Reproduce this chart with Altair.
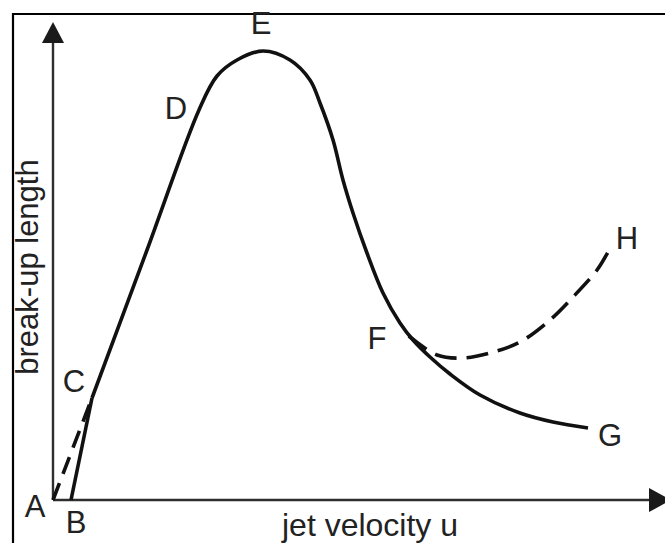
import altair as alt
import pandas as pd

# Schematic jet break-up regimes: break-up length vs jet velocity (arbitrary units)

# B -> C: dripping / early Rayleigh branch (solid)
bc_u = [3.0, 6.5]
bc_L = [0.0, 20.4]

# C -> D -> E -> F -> G: main break-up curve (solid)
main_u = [6.5, 15.67, 24.33, 27.33, 30.67, 35.0, 39.5, 42.83, 44.5, 46.67, 48.33,
          50.0, 52.33, 55.0, 57.83, 60.0, 62.83, 66.17, 71.17, 77.83, 83.33, 89.17]
main_L = [20.4, 50.0, 78.0, 84.8, 88.0, 89.8, 88.0, 84.0, 79.4, 72.0, 64.0,
          57.4, 49.4, 41.4, 35.4, 32.0, 28.6, 25.2, 21.0, 17.4, 15.6, 14.4]

# A -> C: alternative start (dashed)
ac_u = [0.0, 6.5]
ac_L = [0.0, 20.4]

# F -> H: alternative branch (dashed)
fh_u = [59.3, 64.0, 68.33, 72.83, 77.83, 82.83, 86.67, 90.67, 92.5]
fh_L = [32.8, 29.0, 28.4, 29.4, 31.6, 36.0, 40.6, 46.0, 49.6]

# Point labels
lab_text = ["A", "B", "C", "D", "E", "F", "G", "H"]
lab_u = [-3.0, 3.83, 3.5, 20.5, 34.67, 54.0, 92.83, 95.67]
lab_L = [-1.6, -4.8, 23.4, 78.0, 95.0, 32.0, 12.6, 52.0]

# Axis titles
x_title = "jet velocity u"
y_title = "break-up length"

# Axis extents (arrow base and arrow centre)
x_axis_end = 99.5
y_axis_end = 91.4
x_arrow = [101.17]
y_arrow = [93.5]

FONT = "Liberation Sans"
INK = "#111111"
AXIS = "#2e2e2e"
TEXT = "#222222"

xs = alt.Scale(domain=[0, 100], nice=False, zero=False)
ys = alt.Scale(domain=[0, 100], nice=False, zero=False)
X = dict(scale=xs, axis=None)
Y = dict(scale=ys, axis=None)


def series(u, L):
    return pd.DataFrame({"u": u, "L": L, "i": range(len(u))})


def line_layer(df, dash=None):
    kw = dict(color=INK, strokeWidth=3.6, strokeCap="butt", strokeJoin="round",
              interpolate="catmull-rom")
    if dash:
        kw["strokeDash"] = dash
    return alt.Chart(df).mark_line(**kw).encode(
        x=alt.X("u:Q", **X),
        y=alt.Y("L:Q", **Y),
        order="i:Q",
    )


# Axes drawn as rules with arrow heads
axes_df = pd.DataFrame({
    "u": [0, 0], "L": [0, 0],
    "u2": [x_axis_end, 0], "L2": [0, y_axis_end],
})
axes = alt.Chart(axes_df).mark_rule(color=AXIS, strokeWidth=2.4).encode(
    x=alt.X("u:Q", **X), y=alt.Y("L:Q", **Y), x2="u2:Q", y2="L2:Q",
)

x_head = alt.Chart(pd.DataFrame({"u": x_arrow, "L": [0]})).mark_point(
    shape="M1,0 L-1,-1.1 L-1,1.1 Z", filled=True, size=484, opacity=1,
    color="#1a1a1a", strokeWidth=0,
).encode(x=alt.X("u:Q", **X), y=alt.Y("L:Q", **Y))

y_head = alt.Chart(pd.DataFrame({"u": [0], "L": y_arrow})).mark_point(
    shape="M0,-1 L1.05,1 L-1.05,1 Z", filled=True, size=441, opacity=1,
    color="#1a1a1a", strokeWidth=0,
).encode(x=alt.X("u:Q", **X), y=alt.Y("L:Q", **Y))

# Axis titles placed beside the axes
one_row = pd.DataFrame({"k": [0]})
x_title_mark = alt.Chart(one_row).mark_text(
    text=x_title, font=FONT, fontSize=32, color=TEXT,
    align="center", baseline="alphabetic",
).encode(x=alt.value(317), y=alt.value(536))
y_title_mark = alt.Chart(one_row).mark_text(
    text=y_title, font=FONT, fontSize=31, color=TEXT, angle=270,
    align="center", baseline="alphabetic",
).encode(x=alt.value(-15), y=alt.value(267))

# Frame around the figure
frame_top = alt.Chart(one_row).mark_rule(color="#000000", strokeWidth=2.2).encode(
    x=alt.value(-40), x2=alt.value(615), y=alt.value(14))
frame_left = alt.Chart(one_row).mark_rule(color="#000000", strokeWidth=2.2).encode(
    x=alt.value(-40), y=alt.value(13), y2=alt.value(545))

labels = alt.Chart(pd.DataFrame({"t": lab_text, "u": lab_u, "L": lab_L})).mark_text(
    font=FONT, fontSize=31, color=TEXT, align="center", baseline="middle",
).encode(
    x=alt.X("u:Q", **X),
    y=alt.Y("L:Q", **Y),
    text="t:N",
)

chart = alt.layer(
    frame_top, frame_left, axes, x_head, y_head,
    line_layer(series(ac_u, ac_L), dash=[18, 10]),
    line_layer(series(fh_u, fh_L), dash=[22, 10]),
    line_layer(series(bc_u, bc_L)),
    line_layer(series(main_u, main_L)),
    labels, x_title_mark, y_title_mark,
).properties(
    width=600,
    height=500,
    padding={"left": 53, "right": 12, "top": 0, "bottom": 43},
    autosize=alt.AutoSizeParams(type="none"),
    background="white",
).configure_view(stroke=None)

chart.save("out.html", embed_options={"renderer": "svg", "actions": False})
